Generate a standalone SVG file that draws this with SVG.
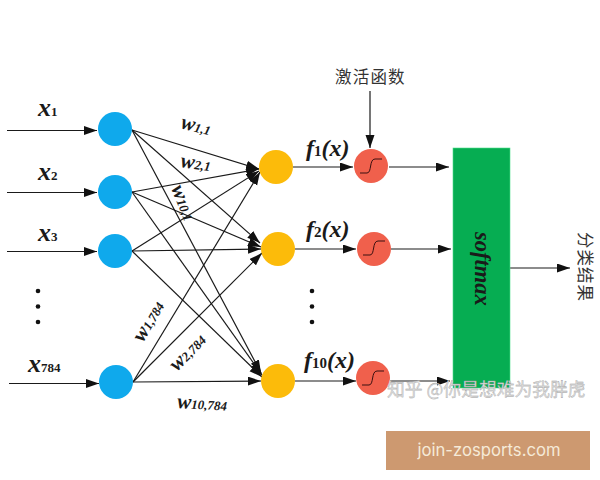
<svg xmlns="http://www.w3.org/2000/svg" width="600" height="480" viewBox="0 0 600 480">
<style>
.c{stroke:#1a1a1a;stroke-width:1.2;fill:none}
.a{marker-end:url(#ah)}
.t{font-family:"Liberation Serif",serif;font-style:italic;font-weight:bold;fill:#1a1a1a}
.s{font-family:"Liberation Serif",serif;font-weight:bold;fill:#1a1a1a}
.z{font-family:"Noto Sans CJK SC",sans-serif;fill:#333}
.in{fill:#0fa9ec}.hid{fill:#fcbb0a}.act{fill:#f0604c}
.sig{stroke:#3a1010;stroke-width:1;fill:none}
</style>
<defs>
<marker id="ah" markerUnits="userSpaceOnUse" markerWidth="14" markerHeight="11" refX="13" refY="4.500" orient="auto"><path d="M0 0L13 4.500L0 9z" fill="#111"/></marker>
</defs>
<rect width="600" height="480" fill="#fff"/>
<g id="connectors">
<path class="c a" d="M7 130.500H97"/><path class="c a" d="M7 192.500H97"/><path class="c a" d="M7 251.500H97"/><path class="c a" d="M9 383.500H99"/>
<path class="c a" d="M132 130L259 169"/><path class="c a" d="M132 130L260 243"/><path class="c a" d="M132 130L261 373"/>
<path class="c a" d="M132 192L259 169"/><path class="c a" d="M132 192L261 247"/><path class="c a" d="M132 192L262 375"/>
<path class="c a" d="M132 251L259 171"/><path class="c a" d="M132 251L261 249"/><path class="c a" d="M132 251L262 377"/>
<path class="c a" d="M133 382L260 172"/><path class="c a" d="M133 382L262 253"/><path class="c a" d="M133 382L261 381"/>
<path class="c a" d="M293 167L353 167"/><path class="c a" d="M295 249L356 249"/><path class="c a" d="M295 381L356 381"/>
<path class="c a" d="M389 167H449"/><path class="c a" d="M391 249H451"/><path class="c a" d="M390 381H450"/>
<path class="c a" d="M370 91V148"/><path class="c a" d="M510 268H570"/>
</g>
<g id="softmax"><rect x="453" y="148" width="57" height="240" fill="#06ad52" stroke="#4be08a" stroke-width="0.6"/>
<text class="t" font-size="22.500" transform="translate(475,232) rotate(90)">softmax</text></g>
<g id="in1"><circle class="in" cx="115" cy="129" r="17"/></g>
<g id="in2"><circle class="in" cx="115" cy="192" r="17"/></g>
<g id="in3"><circle class="in" cx="115" cy="251" r="17"/></g>
<g id="in784"><circle class="in" cx="116" cy="382" r="17"/></g>
<g id="h1"><circle class="hid" cx="276" cy="167" r="17"/></g>
<g id="h2"><circle class="hid" cx="278" cy="249" r="17"/></g>
<g id="h10"><circle class="hid" cx="278" cy="381" r="17"/></g>
<g id="a1"><circle class="act" cx="371" cy="166" r="17"/><path class="sig" d="M360 173H367C372 173 369 159 375 159H382"/></g>
<g id="a2"><circle class="act" cx="374" cy="249" r="17"/><path class="sig" d="M363 255H370C375 255 372 241 378 241H385"/></g>
<g id="a10"><circle class="act" cx="373" cy="378" r="17"/><path class="sig" d="M362 385H369C374 385 371 371 377 371H384"/></g>
<g id="labels">
<text class="t" x="38" y="116" font-size="26">x<tspan class="s" font-size="13" font-style="normal" font-weight="normal">1</tspan></text>
<text class="t" x="38" y="180" font-size="26">x<tspan class="s" font-size="13" font-style="normal" font-weight="normal">2</tspan></text>
<text class="t" x="38" y="241" font-size="26">x<tspan class="s" font-size="13" font-style="normal" font-weight="normal">3</tspan></text>
<text class="t" x="28" y="372" font-size="26">x<tspan class="s" font-size="13" font-style="normal">784</tspan></text>
<text class="t" font-size="21" transform="translate(180,128) rotate(14)">w<tspan font-size="13">1,1</tspan></text>
<text class="t" font-size="21" transform="translate(180,167) rotate(8)">w<tspan font-size="13">2,1</tspan></text>
<text class="t" font-size="21" transform="translate(171,188) rotate(68)">w<tspan font-size="13">10,1</tspan></text>
<text class="t" font-size="21" transform="translate(143,343) rotate(-60)">w<tspan font-size="13">1,784</tspan></text>
<text class="t" font-size="21" transform="translate(177,372) rotate(-46)">w<tspan font-size="13">2,784</tspan></text>
<text class="t" x="177" y="408" font-size="21" transform="rotate(3 177 408)">w<tspan font-size="13">10,784</tspan></text>
<text class="t" x="306" y="156" font-size="24">f<tspan class="s" font-size="15" font-style="normal">1</tspan>(x)</text>
<text class="t" x="306" y="237" font-size="24">f<tspan class="s" font-size="15" font-style="normal">2</tspan>(x)</text>
<text class="t" x="304" y="368" font-size="24">f<tspan class="s" font-size="15" font-style="normal">10</tspan>(x)</text>
<text class="z" x="335" y="83" font-size="16.500" letter-spacing="1.200">激活函数</text>
<text class="z" font-size="16.500" letter-spacing="1" transform="translate(579,232) rotate(90)">分类结果</text>
</g>
<g id="dots" fill="#111">
<circle cx="38" cy="291" r="2.300"/><circle cx="38" cy="306.500" r="2.300"/><circle cx="38" cy="322" r="2.300"/>
<circle cx="312" cy="291" r="2.300"/><circle cx="312" cy="306.500" r="2.300"/><circle cx="312" cy="322" r="2.300"/>
</g>
<text x="387" y="396" font-family="'Noto Sans CJK SC',sans-serif" font-size="17.800" fill="#ddd" stroke="#999" stroke-width="0.300">知乎 @你是想难为我胖虎</text>
<rect x="386" y="431" width="204" height="39" fill="#cd9970"/>
<text x="489" y="456" text-anchor="middle" font-family="Inter,'Noto Sans',sans-serif" font-size="16.700" fill="#f5ead8">join-zosports.com</text>
</svg>
